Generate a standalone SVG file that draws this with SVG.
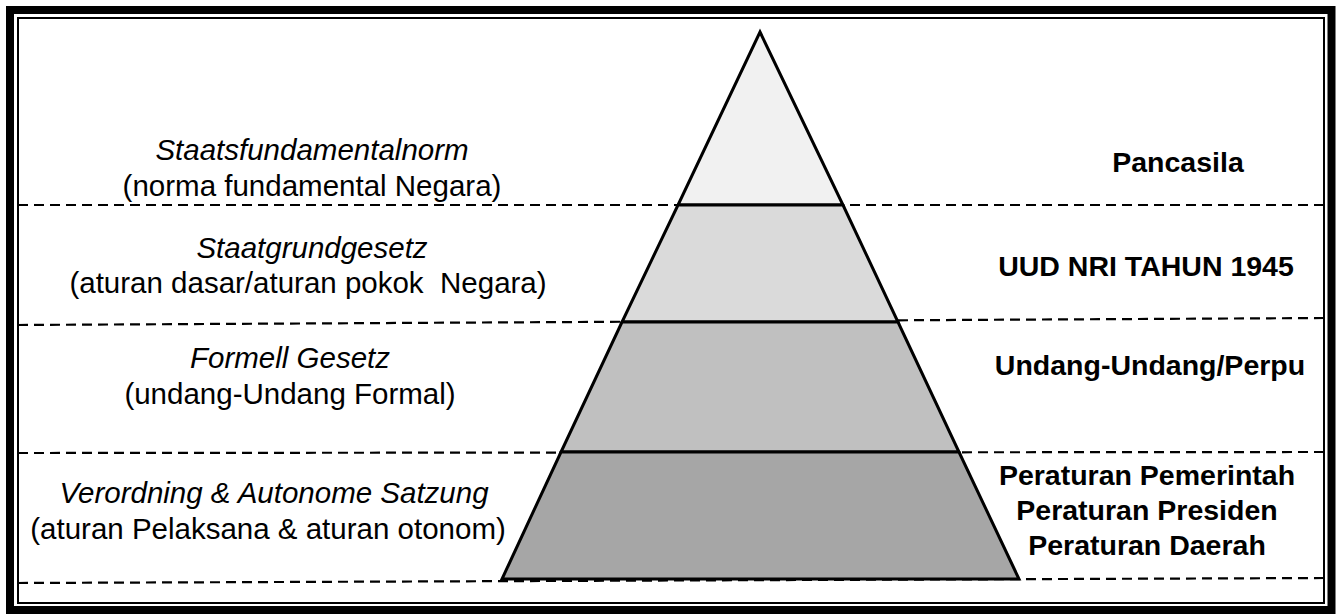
<svg xmlns="http://www.w3.org/2000/svg" width="1341" height="614" viewBox="0 0 1341 614">
<style>
.frame{fill:none;stroke:#000}
.dash{fill:none;stroke:#000;stroke-width:2.2;stroke-dasharray:10 6}
.band{stroke:#000;stroke-width:3;stroke-linejoin:miter}
.lt{font-family:"Liberation Sans",Arial,sans-serif;font-size:29.5px;fill:#000;text-anchor:middle;white-space:pre}
.it{font-style:italic}
.rt{font-family:"Liberation Sans",Arial,sans-serif;font-size:28.5px;font-weight:bold;fill:#000;text-anchor:middle}
</style>
<rect width="1341" height="614" fill="#fff"/>
<rect class="frame" x="10" y="10" width="1321.5" height="600" stroke-width="8"/>
<rect class="frame" x="18" y="18" width="1306" height="585" stroke-width="2"/>
<g id="connectors">
<line class="dash" x1="18" y1="205" x2="1324" y2="205"/>
<line class="dash" x1="18" y1="325" x2="1324" y2="318"/>
<line class="dash" x1="18" y1="453" x2="1324" y2="452"/>
<line class="dash" x1="18" y1="583" x2="1324" y2="578"/>
</g>
<g id="pyramid">
<polygon id="level1" class="band" fill="#f1f1f1" points="760,32 843,205 678,205"/>
<polygon id="level2" class="band" fill="#dadada" points="678,205 843,205 898,322 622,322"/>
<polygon id="level3" class="band" fill="#c0c0c0" points="622,322 898,322 959,452 561,452"/>
<polygon id="level4" class="band" fill="#a6a6a6" points="561,452 959,452 1019,579 502,579"/>
</g>
<g id="label-left-1">
<text class="lt it" x="312" y="160">Staatsfundamentalnorm</text>
<text class="lt" x="312" y="196">(norma fundamental Negara)</text>
</g>
<g id="label-left-2">
<text class="lt it" x="312" y="258">Staatgrundgesetz</text>
<text class="lt" x="308" y="293" xml:space="preserve">(aturan dasar/aturan pokok  Negara)</text>
</g>
<g id="label-left-3">
<text class="lt it" x="290" y="368">Formell Gesetz</text>
<text class="lt" x="290" y="404">(undang-Undang Formal)</text>
</g>
<g id="label-left-4">
<text class="lt it" x="274" y="503">Verordning &amp; Autonome Satzung</text>
<text class="lt" x="268" y="539">(aturan Pelaksana &amp; aturan otonom)</text>
</g>
<g id="label-right-1">
<text class="rt" x="1178" y="172">Pancasila</text>
</g>
<g id="label-right-2">
<text class="rt" x="1146" y="276">UUD NRI TAHUN 1945</text>
</g>
<g id="label-right-3">
<text class="rt" x="1150" y="375">Undang-Undang/Perpu</text>
</g>
<g id="label-right-4">
<text class="rt" x="1147" y="485">Peraturan Pemerintah</text>
<text class="rt" x="1147" y="520">Peraturan Presiden</text>
<text class="rt" x="1147" y="555">Peraturan Daerah</text>
</g>
</svg>
